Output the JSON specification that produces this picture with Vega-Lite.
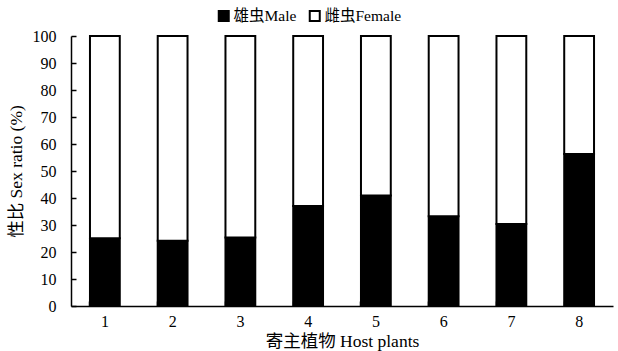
{
  "$schema": "https://vega.github.io/schema/vega-lite/v6.json",
  "width": 542,
  "height": 270,
  "autosize": {"type": "none"},
  "padding": {"left": 71, "top": 36, "right": 5, "bottom": 45},
  "background": "white",
  "config": {
    "view": {"stroke": null},
    "font": "Liberation Serif, Noto Sans CJK SC",
    "axis": {"grid": false, "domainColor": "black", "tickColor": "black", "labelColor": "black", "titleColor": "black", "labelFont": "Liberation Serif", "titleFont": "Liberation Serif, Noto Sans CJK SC", "labelFontSize": 16, "titleFontSize": 17.5, "titleFontWeight": "normal", "domainWidth": 1.5, "tickWidth": 1.5}
  },
  "data": {"values": [
    {"plant": "1", "sex": "雄虫Male", "k": 1, "ratio": 25.1},
    {"plant": "1", "sex": "雌虫Female", "k": 2, "ratio": 74.9},
    {"plant": "2", "sex": "雄虫Male", "k": 1, "ratio": 24.2},
    {"plant": "2", "sex": "雌虫Female", "k": 2, "ratio": 75.8},
    {"plant": "3", "sex": "雄虫Male", "k": 1, "ratio": 25.4},
    {"plant": "3", "sex": "雌虫Female", "k": 2, "ratio": 74.6},
    {"plant": "4", "sex": "雄虫Male", "k": 1, "ratio": 37.0},
    {"plant": "4", "sex": "雌虫Female", "k": 2, "ratio": 63.0},
    {"plant": "5", "sex": "雄虫Male", "k": 1, "ratio": 40.9},
    {"plant": "5", "sex": "雌虫Female", "k": 2, "ratio": 59.1},
    {"plant": "6", "sex": "雄虫Male", "k": 1, "ratio": 33.2},
    {"plant": "6", "sex": "雌虫Female", "k": 2, "ratio": 66.8},
    {"plant": "7", "sex": "雄虫Male", "k": 1, "ratio": 30.4},
    {"plant": "7", "sex": "雌虫Female", "k": 2, "ratio": 69.6},
    {"plant": "8", "sex": "雄虫Male", "k": 1, "ratio": 56.3},
    {"plant": "8", "sex": "雌虫Female", "k": 2, "ratio": 43.7}
  ]},
  "mark": {"type": "bar", "stroke": "black", "strokeWidth": 2},
  "encoding": {
    "x": {"field": "plant", "type": "nominal", "scale": {"paddingInner": 0.56, "paddingOuter": 0.28},
      "axis": {"title": "寄主植物 Host plants", "labelAngle": 0, "bandPosition": 0, "tickSize": -5, "labelPadding": 12, "titlePadding": 3}},
    "y": {"field": "ratio", "type": "quantitative", "stack": "zero", "scale": {"domain": [0, 100], "nice": false},
      "axis": {"title": "性比 Sex ratio (%)", "values": [0,10,20,30,40,50,60,70,80,90,100], "tickSize": -5, "labelPadding": 20, "titlePadding": 7}},
    "color": {"field": "sex", "type": "nominal", "sort": ["雄虫Male", "雌虫Female"],
      "scale": {"domain": ["雄虫Male", "雌虫Female"], "range": ["black", "white"]},
      "legend": {"title": null, "orient": "none", "direction": "horizontal", "legendX": 145, "legendY": -28, "symbolType": "square", "symbolSize": 100, "symbolStrokeColor": "black", "symbolStrokeWidth": 2, "labelFontSize": 15.5, "labelFont": "Liberation Serif, Noto Sans CJK SC", "labelColor": "black", "columnPadding": 8, "labelOffset": 2}},
    "order": {"field": "k", "type": "quantitative"}
  }
}
